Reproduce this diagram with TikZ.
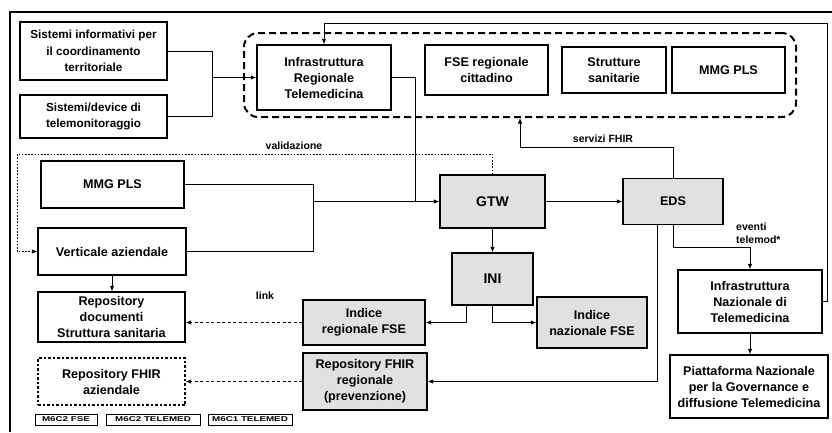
\documentclass[tikz,border=0pt]{standalone}
\usepackage{fontspec}
\setmainfont{Liberation Sans}
\usetikzlibrary{arrows.meta}
\begin{document}
\begin{tikzpicture}[x=1pt,y=-1pt]
\tikzset{
 box/.style={draw, line width=1.2pt, align=center, inner sep=1pt, font=\bfseries\fontsize{12.6}{16}\selectfont},
 shadebox/.style={box, fill=black!12},
 arr/.style={-{Latex[length=5.5pt,width=4.5pt]}, line width=1pt},
 con/.style={line width=1pt},
 dotl/.style={line width=0.9pt, dash pattern=on 1.6pt off 1.6pt},
 dashl/.style={line width=1pt, dash pattern=on 3pt off 2.5pt},
 lab/.style={font=\bfseries\fontsize{10.5}{12.5}\selectfont, inner sep=0pt, align=left},
 legbox/.style={draw, line width=1pt, inner sep=0pt, minimum height=11pt},
 legtxt/.style={font=\bfseries\fontsize{7}{8}\selectfont},
 region/.style={draw, line width=2pt, dash pattern=on 7pt off 4pt, rounded corners=14pt, inner sep=0pt}
}
\useasboundingbox (0,0) rectangle (832,432);
\fill[white] (0,0) rectangle (832,432);
% frame
\draw[line width=1.6pt] (10,432) -- (10,12) -- (832,12);

% top area
\node[box, minimum width=147pt, minimum height=58pt, font=\bfseries\fontsize{11.7}{16.5}\selectfont] (sis) at (93.5,51) {Sistemi informativi per\\il coordinamento\\territoriale};
\node[box, minimum width=147pt, minimum height=43pt, font=\bfseries\fontsize{11.7}{16.5}\selectfont] (tele) at (93.5,116.5) {Sistemi/device di\\telemonitoraggio};
\node[region, minimum width=552pt, minimum height=84pt] (reg) at (520,75) {};
\node[box, minimum width=134pt, minimum height=65pt] (irt) at (324,77.5) {Infrastruttura\\Regionale\\Telemedicina};
\node[box, minimum width=123pt, minimum height=50pt] (fse) at (486.5,70) {FSE regionale\\cittadino};
\node[box, minimum width=104pt, minimum height=46pt] (strut) at (614,70) {Strutture\\sanitarie};
\node[box, minimum width=113pt, minimum height=46pt] (mmgtop) at (728.5,70) {MMG PLS};

% middle
\node[box, minimum width=143pt, minimum height=47pt] (mmg) at (112.5,184.5) {MMG PLS};
\node[box, minimum width=148pt, minimum height=47pt] (vert) at (112,251.5) {Verticale aziendale};
\node[shadebox, minimum width=105pt, minimum height=53pt, font=\bfseries\fontsize{14}{16}\selectfont] (gtw) at (492.5,201.5) {GTW};
\node[shadebox, minimum width=100pt, minimum height=46pt] (eds) at (673,201.5) {EDS};
\node[shadebox, minimum width=81pt, minimum height=52pt, font=\bfseries\fontsize{14}{16}\selectfont] (ini) at (492.5,279) {INI};
\node[shadebox, minimum width=110pt, minimum height=51pt] (inaz) at (592,322.5) {Indice\\nazionale FSE};
\node[shadebox, minimum width=122pt, minimum height=45pt] (ireg) at (364,322.5) {Indice\\regionale FSE};
\node[shadebox, minimum width=124pt, minimum height=57pt] (rfreg) at (365,381.5) {Repository FHIR\\regionale\\(prevenzione)};
\node[box, minimum width=147pt, minimum height=50pt] (rdoc) at (111.5,317) {Repository\\documenti\\Struttura sanitaria};
\node[box, minimum width=147pt, minimum height=47pt, dash pattern=on 2.5pt off 2pt] (rfaz) at (111.5,381.5) {Repository FHIR\\aziendale};
\node[box, minimum width=144pt, minimum height=63pt] (infn) at (750,301.5) {Infrastruttura\\Nazionale di\\Telemedicina};
\node[box, minimum width=158pt, minimum height=63pt] (piat) at (749,386.5) {Piattaforma Nazionale\\per la Governance e\\diffusione Telemedicina};

% legend
\node[legbox, minimum width=62pt] (l1) at (66,419.5) {\scalebox{1.4}[1]{\bfseries\fontsize{7}{8}\selectfont M6C2 FSE}};
\node[legbox, minimum width=94pt] (l2) at (153,419.5) {\scalebox{1.4}[1]{\bfseries\fontsize{7}{8}\selectfont M6C2 TELEMED}};
\node[legbox, minimum width=84pt] (l3) at (250,419.5) {\scalebox{1.4}[1]{\bfseries\fontsize{7}{8}\selectfont M6C1 TELEMED}};

% labels
\node[lab] (lval) at (294,146) {validazione};
\node[lab] (lserv) at (603,139) {servizi FHIR};
\node[lab, anchor=west] (lev) at (736,233) {eventi\\telemod*};
\node[lab] (llink) at (265,296) {link};

% coordinates
\coordinate (j1) at (212,77.5);
\coordinate (j2) at (415,201.5);
\coordinate (j3) at (313,201.5);
\coordinate (v1) at (17,154);
\coordinate (s1) at (520,147);
\coordinate (e1) at (750,247);
\coordinate (t1) at (827,23);

% connectors
\draw[con] (sis.east) -| (j1);
\draw[con] (tele.east) -| (j1);
\draw[arr] (j1) -- (irt.west);
\draw[con] (irt.east) -| (j2);
\draw[con] (mmg.east) -| (j3);
\draw[con] (vert.east) -| (j3);
\draw[arr] (j3) -- (gtw.west);
\draw[arr] (gtw.east) -- (eds.west);
\draw[arr] (gtw.south) -- (ini.north);
\draw[dotl, -{Latex[length=5.5pt,width=4.5pt]}] (gtw.north) |- (v1) |- (vert.west);
\draw[arr] (eds.north) |- (s1) -- (s1 |- reg.south);
\draw[arr] (eds.south) |- (e1) -- (infn.north);
\draw[arr] ([xshift=-16pt]eds.south) |- (rfreg.east);
\draw[arr] ([xshift=-26.5pt]ini.south) |- (ireg.east);
\draw[arr] (ini.south) |- (inaz.west);
\draw[dashl, -{Latex[length=5.5pt,width=4.5pt]}] (ireg.west) -- (ireg.west -| rdoc.east);
\draw[dashl, -{Latex[length=5.5pt,width=4.5pt]}] (rfreg.west) -- (rfaz.east);
\draw[arr] (vert.south) -- (vert.south |- rdoc.north);
\draw[arr] (infn.south) -- (infn.south |- piat.north);
\draw[arr] (infn.east) -| (t1) -| (irt.north);
\end{tikzpicture}
\end{document}
